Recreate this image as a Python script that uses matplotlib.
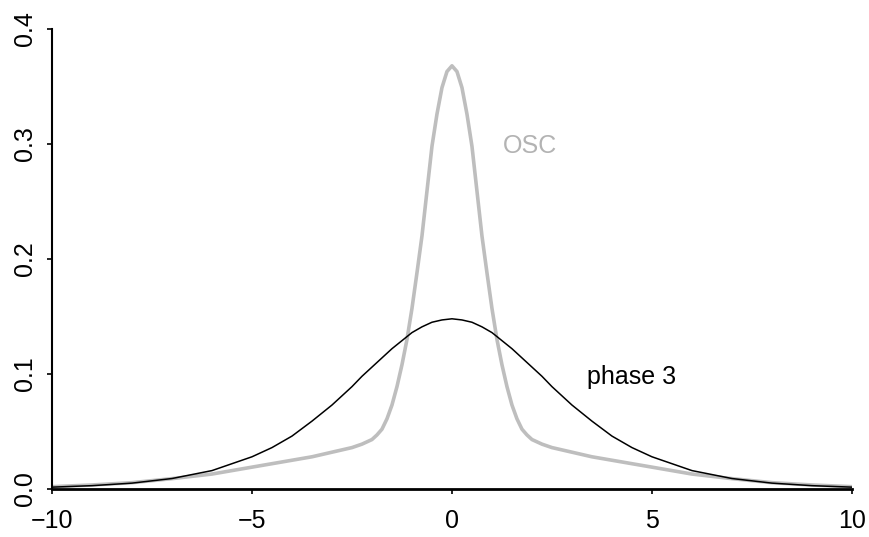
import numpy as np
import matplotlib.pyplot as plt

plt.rcParams['font.family'] = ['Liberation Sans', 'DejaVu Sans']

# values (curves are symmetric about 0)
osc_x = [0, 0.125, 0.25, 0.375, 0.5, 0.625, 0.75, 0.875, 1.0, 1.125, 1.25, 1.375,
         1.5, 1.625, 1.75, 1.875, 2.0, 2.125, 2.25, 2.5, 3.0, 3.5, 4.0, 4.5, 5.0,
         6.0, 7.0, 8.0, 9.0, 10.0]
osc_y = [0.368, 0.363, 0.349, 0.326, 0.298, 0.259, 0.220, 0.188, 0.157, 0.130,
         0.108, 0.089, 0.073, 0.061, 0.052, 0.047, 0.043, 0.041, 0.039, 0.036,
         0.032, 0.028, 0.025, 0.022, 0.019, 0.013, 0.009, 0.0055, 0.0035, 0.002]

ph3_x = [0, 0.25, 0.5, 0.75, 1.0, 1.25, 1.5, 1.75, 2.0, 2.25, 2.5, 3.0, 3.5, 4.0,
         4.5, 5.0, 6.0, 7.0, 8.0, 9.0, 10.0]
ph3_y = [0.148, 0.147, 0.145, 0.141, 0.136, 0.129, 0.122, 0.114, 0.106, 0.098,
         0.089, 0.073, 0.059, 0.046, 0.036, 0.028, 0.016, 0.0091, 0.0051, 0.0029,
         0.0016]

def mirror(xs, ys):
    xs = np.array(xs); ys = np.array(ys)
    return np.concatenate([-xs[:0:-1], xs]), np.concatenate([ys[:0:-1], ys])

fig = plt.figure(figsize=(8.69, 5.37), dpi=100)
ax = fig.add_axes([0.0598, 0.0894, 0.9206, 0.8566])

x, y = mirror(osc_x, osc_y)
ax.plot(x, y, color='#BEBEBE', lw=2.6)
x, y = mirror(ph3_x, ph3_y)
ax.plot(x, y, color='black', lw=1.1)

ax.text(1.27, 0.298, 'OSC', color='#B3B3B3', fontsize=18, va='center', ha='left')
ax.text(3.37, 0.097, 'phase 3', color='black', fontsize=18, va='center', ha='left')

ax.set_xlim(-10, 10)
ax.set_ylim(0, 0.4)
ax.set_xticks([-10, -5, 0, 5, 10])
ax.set_xticklabels(['\u221210', '\u22125', '0', '5', '10'])
ax.set_yticks([0, 0.1, 0.2, 0.3, 0.4])
ax.set_yticklabels(['0.0', '0.1', '0.2', '0.3', '0.4'], rotation=90, va='center')
ax.tick_params(labelsize=18, length=3.5, width=1.2, direction='out')
ax.tick_params(axis='x', pad=11)
ax.tick_params(axis='y', pad=7.5)
for s in ['top', 'right']:
    ax.spines[s].set_visible(False)
ax.spines['left'].set_linewidth(1.5)
ax.spines['bottom'].set_linewidth(2)

fig.savefig('out.png', dpi=100)
